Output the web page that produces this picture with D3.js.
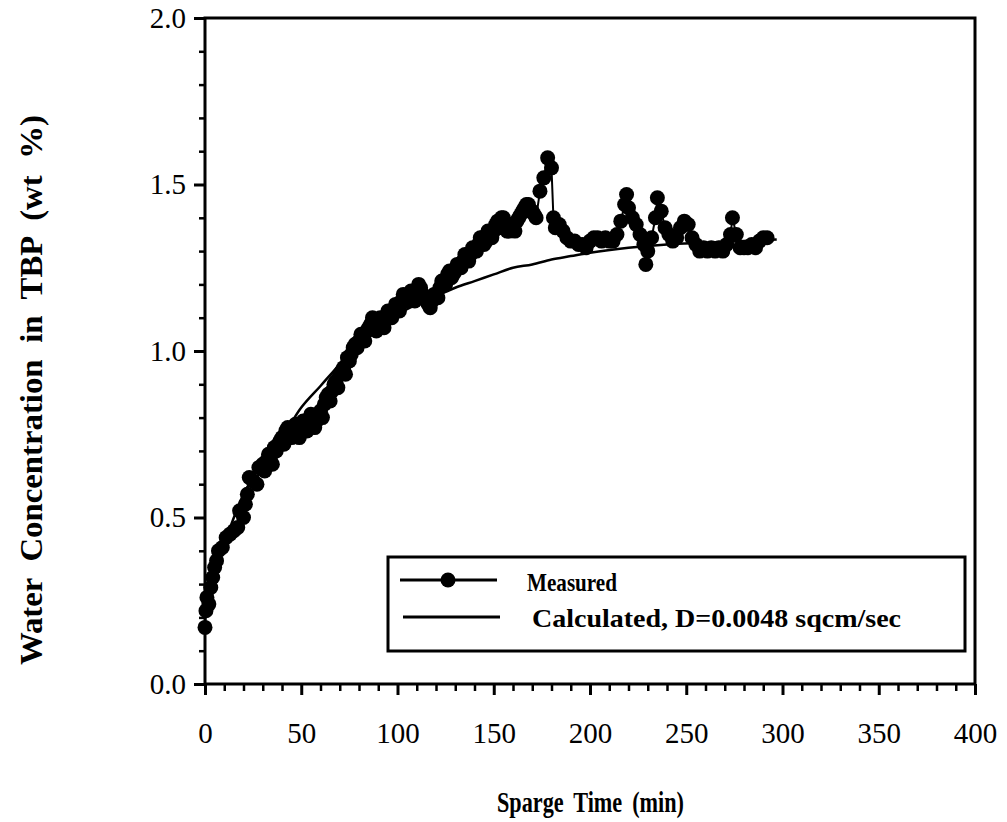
<!DOCTYPE html>
<html><head><meta charset="utf-8">
<script src="https://cdn.jsdelivr.net/npm/d3@7"></script>
<style>body{margin:0;background:#fff} text{font-family:'Liberation Serif','DejaVu Serif',serif}</style>
</head><body>
<svg id="c" width="1007" height="822"></svg>
<script>
// Measured series
const measuredTime = [0,0.5,1,2,3,4,5,6,7,9,11,13,15,17,18,20,21,22,23,25,27,28,30,
31,32,33,34,35,36,37,38,39,40,
41,42,43,44,45,46,47,48,49,50,
51,52,53,54,55,56,57,58,59,60,
61,62,63,64,65,66,67,68,69,70,
71,72,73,74,75,76,77,78,79,80,
81,82,83,84,85,86,87,88,89,90,
91,92,93,94,95,96,97,98,99,100,
101,102,103,104,105,106,107,108,109,110,
111,112,113,114,115,116,117,118,119,120,
121,122,123,124,125,126,127,128,129,130,
131,132,133,134,135,136,137,138,139,140,
141,142,143,144,145,146,147,148,149,150,
151,152,153,154,155,156,157,158,159,160,
161,162,163,164,165,166,167,168,169,170,
171,172,174,176,178,180,181,182,184,186,188,190,192,194,196,198,200,202,204,206,208,210,212,214,216,218,219,220,222,224,226,228,229,230,232,234,235,237,239,241,243,245,247,249,251,253,255,257,259,261,263,265,267,269,271,273,274,276,278,280,282,284,286,288,290,292];
const measuredValue = [0.17,0.22,0.26,0.24,0.29,0.32,0.35,0.37,0.40,0.41,0.44,0.45,0.46,0.47,0.52,0.50,0.54,0.57,0.62,0.61,0.60,0.65,0.66,
0.64,0.67,0.69,0.68,0.66,0.71,0.70,0.72,0.73,0.74,
0.72,0.76,0.77,0.75,0.74,0.76,0.78,0.75,0.74,0.77,
0.79,0.79,0.76,0.78,0.81,0.80,0.77,0.79,0.81,0.82,
0.80,0.84,0.86,0.87,0.85,0.88,0.90,0.91,0.89,0.93,
0.94,0.95,0.93,0.98,0.97,0.99,1.01,1.02,1.01,1.03,
1.05,1.04,1.03,1.06,1.07,1.08,1.10,1.09,1.06,1.07,
1.10,1.08,1.07,1.10,1.12,1.11,1.10,1.12,1.14,1.14,
1.12,1.15,1.17,1.16,1.15,1.17,1.18,1.17,1.15,1.18,
1.20,1.19,1.17,1.16,1.15,1.14,1.13,1.15,1.17,1.17,
1.16,1.19,1.21,1.21,1.20,1.23,1.24,1.22,1.23,1.24,
1.26,1.26,1.25,1.27,1.29,1.28,1.27,1.29,1.31,1.30,
1.30,1.32,1.34,1.34,1.32,1.33,1.36,1.35,1.34,1.36,
1.38,1.39,1.37,1.40,1.40,1.38,1.36,1.36,1.38,1.37,
1.36,1.39,1.40,1.41,1.42,1.43,1.44,1.44,1.42,1.42,
1.41,1.40,1.48,1.52,1.58,1.55,1.40,1.37,1.38,1.36,1.34,1.33,1.33,1.32,1.32,1.31,1.33,1.34,1.34,1.33,1.34,1.33,1.33,1.35,1.39,1.44,1.47,1.43,1.40,1.38,1.35,1.32,1.26,1.30,1.34,1.40,1.46,1.42,1.37,1.35,1.33,1.34,1.37,1.39,1.38,1.34,1.32,1.30,1.31,1.30,1.31,1.30,1.31,1.30,1.32,1.35,1.40,1.35,1.31,1.31,1.31,1.32,1.31,1.33,1.34,1.34];
// Calculated series
const calcTime = [0,2,5,10,15,20,25,30,40,50,60,70,80,90,100,110,120,130,140,150,160,170,180,190,200,220,240,260,280,297];
const calcValue = [0.20,0.26,0.33,0.42,0.50,0.57,0.62,0.665,0.74,0.83,0.895,0.96,1.02,1.07,1.11,1.14,1.165,1.19,1.21,1.23,1.25,1.26,1.275,1.285,1.295,1.31,1.32,1.325,1.33,1.335];
const xTicks = [0,50,100,150,200,250,300,350,400];
const yTicks = [0.0,0.5,1.0,1.5,2.0];
const legendLabels = ["Measured","Calculated, D=0.0048 sqcm/sec"];
const xTitle = "Sparge Time (min)";
const yTitle = "Water Concentration in TBP (wt %)";

const svg = d3.select("#c");
const L=205, R=975, T=18, B=684;
const x = d3.scaleLinear().domain([0,400]).range([L,R]);
const y = d3.scaleLinear().domain([0,2]).range([B,T]);
const serif = "'Liberation Serif','DejaVu Serif',serif";

// frame
svg.append("rect").attr("x",L).attr("y",T).attr("width",R-L).attr("height",B-T)
  .attr("fill","none").attr("stroke","#000").attr("stroke-width",3);

// x axis
const xAxis = d3.axisBottom(x).tickValues(xTicks).tickSize(11).tickSizeOuter(0).tickFormat(d3.format("d"));
const gx = svg.append("g").attr("transform",`translate(0,${B})`).call(xAxis);
gx.attr("font-family",serif).attr("font-size",29);
gx.select(".domain").remove();
gx.selectAll(".tick line").attr("stroke-width",3);
gx.selectAll(".tick text").style("font-family",serif).style("font-size","29px").attr("y",38).attr("fill","#000");
const xMinor = d3.axisBottom(x).tickValues(d3.range(0,401,10).filter(v=>v%50)).tickSize(7).tickFormat("");
const gxm = svg.append("g").attr("transform",`translate(0,${B})`).call(xMinor);
gxm.select(".domain").remove();
gxm.selectAll(".tick line").attr("stroke-width",2.5);

// y axis
const yAxis = d3.axisLeft(y).tickValues(yTicks).tickSize(11).tickSizeOuter(0).tickFormat(d3.format(".1f"));
const gy = svg.append("g").attr("transform",`translate(${L},0)`).call(yAxis);
gy.attr("font-family",serif).attr("font-size",29);
gy.select(".domain").remove();
gy.selectAll(".tick line").attr("stroke-width",3);
gy.selectAll(".tick text").style("font-family",serif).style("font-size","29px").attr("x",-19).attr("fill","#000");
const yMinor = d3.axisLeft(y).tickValues(d3.range(0,21,1).filter(v=>v%5).map(v=>v/10)).tickSize(6).tickFormat("");
const gym = svg.append("g").attr("transform",`translate(${L},0)`).call(yMinor);
gym.select(".domain").remove();
gym.selectAll(".tick line").attr("stroke-width",2.5);

// calculated line
const calc = calcTime.map((t,i)=>[t,calcValue[i]]);
svg.append("path").datum(calc)
  .attr("d",d3.line().x(d=>x(d[0])).y(d=>y(d[1])).curve(d3.curveMonotoneX))
  .attr("fill","none").attr("stroke","#000").attr("stroke-width",2.5);

// measured
const meas = measuredTime.map((t,i)=>[t,measuredValue[i]]);
svg.append("path").datum(meas)
  .attr("d",d3.line().x(d=>x(d[0])).y(d=>y(d[1])))
  .attr("fill","none").attr("stroke","#000").attr("stroke-width",2);
svg.append("g").selectAll("circle").data(meas).join("circle")
  .attr("cx",d=>x(d[0])).attr("cy",d=>y(d[1])).attr("r",7.5).attr("fill","#000");

// legend
const lg = svg.append("g");
lg.append("rect").attr("x",388).attr("y",557).attr("width",577).attr("height",94)
  .attr("fill","#fff").attr("stroke","#000").attr("stroke-width",3);
lg.append("line").attr("x1",400).attr("x2",497).attr("y1",580).attr("y2",580).attr("stroke","#000").attr("stroke-width",3);
lg.append("circle").attr("cx",448).attr("cy",580).attr("r",7.5).attr("fill","#000");
lg.append("line").attr("x1",403).attr("x2",500).attr("y1",617).attr("y2",617).attr("stroke","#000").attr("stroke-width",3);
lg.append("text").attr("x",527).attr("y",591).text(legendLabels[0])
  .style("font-family",serif).attr("font-weight","bold").style("font-size","26px")
  .attr("textLength",90).attr("lengthAdjust","spacingAndGlyphs");
lg.append("text").attr("x",532).attr("y",627).text(legendLabels[1])
  .style("font-family",serif).attr("font-weight","bold").style("font-size","26px")
  .attr("textLength",369).attr("lengthAdjust","spacingAndGlyphs");

// titles
svg.append("text").attr("x",497).attr("y",812)
  .style("font-family",serif).attr("font-weight","bold").style("font-size","30px")
  .attr("word-spacing","6px")
  .attr("textLength",187).attr("lengthAdjust","spacingAndGlyphs").text(xTitle);
svg.append("text").attr("transform","translate(42,665) rotate(-90)")
  .style("font-family",serif).attr("font-weight","bold").style("font-size","31px")
  .attr("word-spacing","8px")
  .attr("textLength",550).attr("lengthAdjust","spacingAndGlyphs").text(yTitle);
</script>
</body></html>
